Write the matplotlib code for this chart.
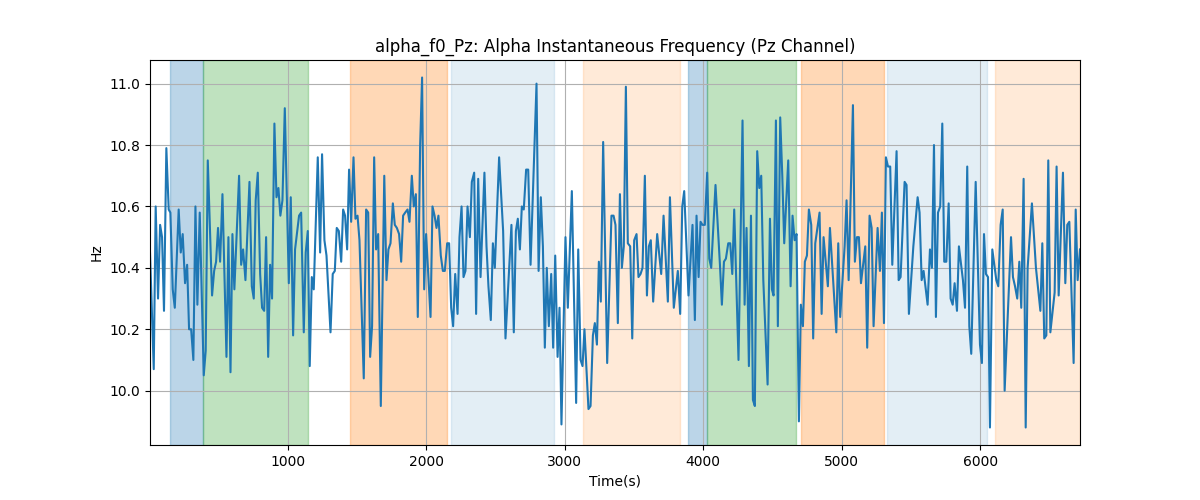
import matplotlib
matplotlib.use("Agg")
import matplotlib.pyplot as plt

# instantaneous alpha frequency, Pz channel
timeSec = [
    7, 34, 48, 65, 80, 94, 108, 125, 142, 154, 171, 186, 214, 229, 243, 260, 275, 289, 304, 320,
    335, 349, 366, 395, 409, 424, 455, 470, 484, 498, 513, 530, 559,
    573, 588, 602, 616, 650, 665, 679, 696, 725, 742, 756, 770, 785, 802, 816, 831, 845, 860,
    874, 888, 905, 920, 934, 948, 963, 980, 1009, 1023, 1040, 1054, 1083, 1098, 1117,
    1131, 1146, 1160, 1175, 1189, 1218, 1235, 1249, 1266, 1281, 1310, 1326, 1341, 1355, 1370,
    1387, 1401, 1415, 1430, 1444, 1459, 1476, 1490, 1505, 1519, 1550, 1567, 1582, 1596, 1610,
    1625, 1639, 1654, 1673, 1698,
    1714, 1728, 1743, 1760, 1774, 1789, 1805, 1820, 1834, 1849, 1866, 1880, 1897, 1911, 1926,
    1940, 1957, 1971, 1986, 2000, 2032, 2046, 2061, 2075, 2089, 2106, 2121, 2135, 2152, 2166,
    2181, 2195, 2210, 2227, 2241, 2256,
    2270, 2284, 2299, 2316, 2330, 2347, 2361, 2376, 2393, 2421, 2436, 2450, 2467, 2482, 2496,
    2527, 2556, 2573, 2616, 2633, 2648, 2662, 2677, 2691, 2705, 2722, 2737, 2754, 2782, 2797, 2812,
    2828, 2843, 2857, 2871, 2886, 2903, 2917, 2932, 2949, 2963, 2977, 3006, 3023, 3052, 3083,
    3098, 3115, 3129, 3143, 3172, 3187, 3204, 3218, 3233, 3247, 3261, 3278, 3307, 3338, 3353,
    3367, 3384,
    3399, 3413, 3427, 3442, 3456, 3473, 3488, 3502, 3519, 3533, 3548, 3562, 3579, 3594, 3608,
    3622, 3639, 3668, 3697, 3714, 3745, 3760, 3788, 3817, 3834, 3849, 3863, 3894, 3923, 3940,
    3952, 3967, 3981, 3995, 4012, 4029, 4044, 4058, 4089, 4121, 4135, 4150, 4164, 4181, 4195,
    4210, 4224, 4255, 4284, 4299, 4313, 4330, 4345, 4359, 4373, 4390, 4405, 4419, 4434, 4465,
    4482, 4496, 4508,
    4525, 4539, 4556, 4571, 4585, 4614, 4631, 4645, 4660, 4674, 4691, 4705, 4720, 4734, 4749,
    4763, 4780, 4794, 4809, 4840, 4855, 4869, 4900, 4915, 4961, 4975, 4989, 5021, 5035, 5050,
    5081, 5095, 5110, 5124, 5139, 5170, 5184, 5201, 5216, 5230, 5259, 5276, 5290, 5305, 5319,
    5334, 5350, 5365, 5396, 5411, 5425, 5454, 5468, 5485, 5517, 5548, 5562, 5577, 5591, 5620, 5637,
    5651, 5666, 5680, 5695, 5711, 5726, 5740, 5755, 5772, 5786, 5801, 5815, 5832, 5846, 5875,
    5890, 5906, 5921, 5935, 5967, 5998, 6012, 6027, 6041, 6056, 6070, 6087, 6116, 6130, 6147,
    6162, 6176,
    6222, 6236, 6251, 6267, 6282, 6296, 6313, 6328, 6342, 6373, 6402, 6434, 6448, 6462, 6477,
    6491, 6506, 6537, 6551, 6566, 6597, 6614, 6628, 6643, 6674, 6689, 6703, 6720,
]
freqHz = [
    10.45, 10.07, 10.60, 10.30, 10.54, 10.50, 10.26, 10.79, 10.59, 10.58, 10.33, 10.27, 10.59, 10.45, 10.51, 10.35, 10.41, 10.20, 10.20, 10.10,
    10.60, 10.28, 10.58, 10.05, 10.13, 10.75, 10.31, 10.39, 10.42, 10.53, 10.42, 10.64, 10.11,
    10.50, 10.06, 10.51, 10.33, 10.70, 10.41, 10.46, 10.36, 10.68, 10.34, 10.30, 10.62, 10.71, 10.38, 10.27, 10.26, 10.50, 10.11,
    10.41, 10.30, 10.87, 10.63, 10.66, 10.57, 10.62, 10.92, 10.35, 10.63, 10.18, 10.46, 10.57, 10.58, 10.19,
    10.45, 10.52, 10.08, 10.37, 10.33, 10.76, 10.45, 10.77, 10.49, 10.44, 10.19, 10.38, 10.39, 10.53, 10.52,
    10.42, 10.59, 10.57, 10.46, 10.72, 10.55, 10.76, 10.56, 10.57, 10.49, 10.04, 10.59, 10.58, 10.11, 10.21,
    10.76, 10.46, 10.51, 9.95, 10.70,
    10.36, 10.46, 10.48, 10.61, 10.54, 10.53, 10.51, 10.42, 10.57, 10.58, 10.59, 10.55, 10.70, 10.60, 10.64,
    10.24, 10.80, 11.02, 10.33, 10.51, 10.24, 10.60, 10.57, 10.53, 10.57, 10.44, 10.39, 10.39, 10.48, 10.48,
    10.27, 10.21, 10.38, 10.25, 10.50, 10.60,
    10.37, 10.39, 10.60, 10.50, 10.68, 10.71, 10.25, 10.69, 10.37, 10.71, 10.47, 10.34, 10.23, 10.48, 10.40,
    10.76, 10.52, 10.17, 10.54, 10.19, 10.52, 10.56, 10.46, 10.60, 10.59, 10.72, 10.72, 10.41, 10.80, 11.00, 10.39,
    10.63, 10.47, 10.14, 10.40, 10.21, 10.38, 10.14, 10.44, 10.11, 10.27, 9.89, 10.50, 10.27, 10.65, 9.96,
    10.46, 10.10, 10.08, 10.20, 9.94, 9.95, 10.18, 10.22, 10.15, 10.42, 10.29, 10.81, 10.09, 10.57, 10.57,
    10.54, 10.22,
    10.64, 10.40, 10.47, 10.99, 10.48, 10.47, 10.17, 10.49, 10.51, 10.37, 10.38, 10.40, 10.70, 10.31, 10.47,
    10.49, 10.29, 10.51, 10.38, 10.57, 10.29, 10.63, 10.27, 10.39, 10.25, 10.60, 10.65, 10.31, 10.54, 10.23,
    10.57, 10.37, 10.55, 10.54, 10.54, 10.71, 10.43, 10.40, 10.67, 10.41, 10.28, 10.42, 10.43, 10.48, 10.48,
    10.38, 10.59, 10.10, 10.88, 10.28, 10.53, 10.08, 10.57, 9.97, 9.95, 10.78, 10.66, 10.70, 10.36, 10.02,
    10.56, 10.33, 10.31,
    10.88, 10.21, 10.89, 10.70, 10.48, 10.75, 10.34, 10.57, 10.49, 10.51, 9.90, 10.28, 10.21, 10.42, 10.44,
    10.59, 10.54, 10.17, 10.48, 10.58, 10.25, 10.50, 10.34, 10.53, 10.19, 10.48, 10.24, 10.47, 10.62, 10.36,
    10.93, 10.42, 10.50, 10.50, 10.35, 10.47, 10.14, 10.57, 10.53, 10.21, 10.53, 10.39, 10.58, 10.22, 10.76,
    10.73, 10.73, 10.41, 10.78, 10.36, 10.37, 10.68, 10.67, 10.25, 10.47, 10.63, 10.58, 10.36, 10.39, 10.28, 10.46,
    10.40, 10.80, 10.24, 10.58, 10.60, 10.87, 10.42, 10.42, 10.61, 10.30, 10.28, 10.35, 10.26, 10.47, 10.36,
    10.27, 10.73, 10.21, 10.12, 10.68, 10.15, 10.09, 10.51, 10.38, 10.37, 9.88, 10.46, 10.36, 10.34, 10.54,
    10.59, 10.00,
    10.50, 10.37, 10.34, 10.30, 10.42, 10.27, 10.69, 9.88, 10.40, 10.61, 10.40, 10.26, 10.48, 10.17, 10.18,
    10.75, 10.19, 10.32, 10.73, 10.31, 10.71, 10.35, 10.54, 10.55, 10.09, 10.59, 10.36, 10.46,
]

# task blocks shaded behind the trace
spanStart = [150, 388, 1449, 2178, 3131, 3892, 4029, 4708, 5326, 6108]
spanEnd = [388, 1146, 2149, 2920, 3830, 4029, 4669, 5307, 6051, 6720]
spanKind = ["rest", "task", "recall", "eyes", "break", "rest", "task", "recall", "eyes", "break"]

kindStyle = {
    "rest": ("tab:blue", 0.3),
    "task": ("tab:green", 0.3),
    "recall": ("tab:orange", 0.3),
    "eyes": ("tab:blue", 0.12),
    "break": ("tab:orange", 0.16),
}

fig, ax = plt.subplots(figsize=(12, 5), dpi=100)

for start, end, kind in zip(spanStart, spanEnd, spanKind):
    color, alpha = kindStyle[kind]
    ax.axvspan(start, end, color=color, alpha=alpha)

ax.plot(timeSec, freqHz, color="tab:blue", linewidth=1.5)

ax.set_xlim(timeSec[0], timeSec[-1])
ax.set_title("alpha_f0_Pz: Alpha Instantaneous Frequency (Pz Channel)")
ax.set_xlabel("Time(s)")
ax.set_ylabel("Hz")
ax.grid(True)

fig.savefig("out.png")
